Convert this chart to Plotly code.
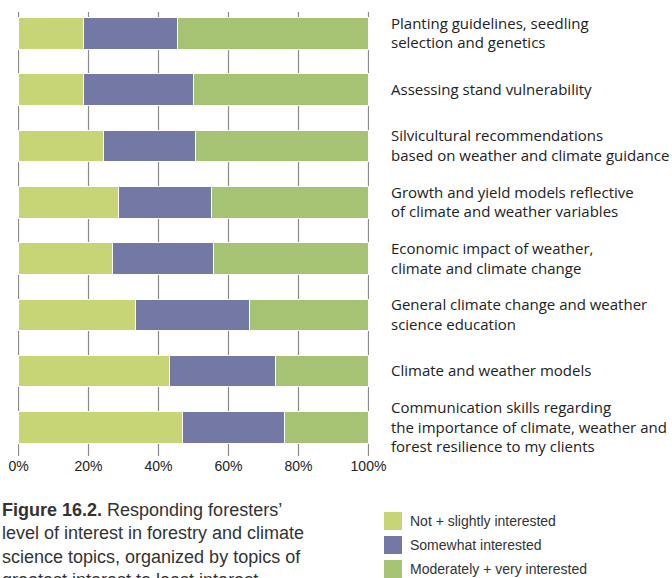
import plotly.graph_objects as go

categories = [
    "Planting guidelines, seedling<br>selection and genetics",
    "Assessing stand vulnerability",
    "Silvicultural recommendations<br>based on weather and climate guidance",
    "Growth and yield models reflective<br>of climate and weather variables",
    "Economic impact of weather,<br>climate and climate change",
    "General climate change and weather<br>science education",
    "Climate and weather models",
    "Communication skills regarding<br>the importance of climate, weather and<br>forest resilience to my clients",
]
series_names = ["Not + slightly interested", "Somewhat interested", "Moderately + very interested"]
not_slightly = [18.7, 18.7, 24.2, 28.5, 26.9, 33.3, 43.0, 46.8]
somewhat = [26.8, 31.3, 26.5, 26.7, 28.9, 32.8, 30.3, 29.3]
moderately = [54.5, 50.0, 49.3, 44.8, 44.2, 33.9, 26.7, 23.9]
colors = ["#C8D577", "#7478A5", "#A5C373"]
tick_vals = [0, 20, 40, 60, 80, 100]
tick_text = ["0%", "20%", "40%", "60%", "80%", "100%"]
caption = ("<b>Figure 16.2.</b> Responding foresters’<br>level of interest in forestry and climate<br>"
           "science topics, organized by topics of<br>greatest interest to least interest.")

W, H = 672, 578
L, R, T, B = 18, 369, 12, 456

fig = go.Figure()
idx = list(range(len(categories)))
for name, vals, col in zip(series_names, [not_slightly, somewhat, moderately], colors):
    fig.add_trace(go.Bar(
        y=idx, x=vals, name=name, orientation="h",
        marker=dict(color=col, line=dict(color="white", width=1)),
        showlegend=False,
    ))

spacing = 56.3
top_val = -(33.3 - T) / spacing
bot_val = 7 + (B - 427.5) / spacing

fig.update_layout(
    template="none",
    width=W, height=H,
    barmode="stack", bargap=0.44,
    plot_bgcolor="white", paper_bgcolor="white",
    margin=dict(l=L, r=W - R, t=T, b=H - B, pad=0, autoexpand=False),
    xaxis=dict(range=[-0.15, 100.15], tickvals=tick_vals, ticktext=tick_text,
               showgrid=True, gridcolor="#8a8a8a", gridwidth=1,
               zeroline=False, showline=False, ticks="", automargin=False,
               tickfont=dict(family="Liberation Sans, Arial, sans-serif", size=14, color="#222")),
    yaxis=dict(range=[bot_val, top_val], tickvals=idx, ticktext=categories,
               side="right", showgrid=False, zeroline=False, showline=False,
               ticks="", ticklabelstandoff=21, automargin=False,
               tickfont=dict(family="Open Sans, Noto Sans, sans-serif", size=15, color="#222")),
    font=dict(family="Liberation Sans, sans-serif"),
)

# vertical gridlines at the tick values
for v in tick_vals:
    fig.add_shape(type="line", xref="x", yref="paper", x0=v, x1=v, y0=0, y1=1,
                  line=dict(color="#8a8a8a", width=1.2), layer="below")

fig.add_annotation(
    text=caption, xref="paper", yref="paper", x=-L / (R - L), y=(B - 498) / (B - T),
    xanchor="left", yanchor="top", align="left", showarrow=False,
    font=dict(family="Liberation Sans, Arial, sans-serif", size=18, color="#333"),
)

for i, (name, col) in enumerate(zip(series_names, colors)):
    yc = 521 + 24 * i
    fig.add_shape(type="rect", xref="paper", yref="paper",
                  x0=(384 - L) / (R - L), x1=(402 - L) / (R - L),
                  y0=(B - (yc - 9)) / (B - T), y1=(B - (yc + 9)) / (B - T),
                  fillcolor=col, line=dict(width=0))
    fig.add_annotation(text=name, xref="paper", yref="paper",
                       x=(408 - L) / (R - L), y=(B - yc) / (B - T),
                       xanchor="left", yanchor="middle", showarrow=False,
                       font=dict(family="Liberation Sans, Arial, sans-serif", size=14, color="#333"))

fig.write_html("out.html")
